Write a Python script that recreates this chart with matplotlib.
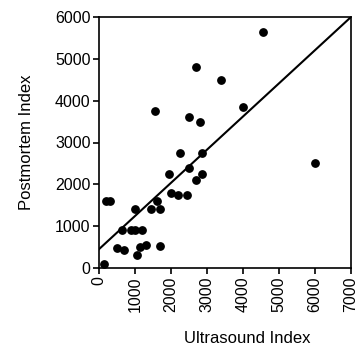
import matplotlib
matplotlib.use('Agg')
import matplotlib.pyplot as plt

# ultrasound index vs postmortem index
ultrasound = [4550, 2700, 3400, 1550, 2500, 2800, 4000,
              6000, 2250, 2850, 2500, 1950, 2850, 2700, 2000, 2200, 2450,
              200, 300, 1600, 1000, 1450, 1700,
              650, 900, 1000, 1200,
              500, 700, 1150, 1300, 1700, 1050, 150]
postmortem = [5650, 4800, 4500, 3750, 3600, 3500, 3850,
              2500, 2750, 2750, 2400, 2250, 2250, 2100, 1800, 1750, 1750,
              1600, 1600, 1600, 1400, 1400, 1400,
              900, 900, 900, 900,
              470, 420, 500, 560, 530, 300, 90]

# fitted line end points
fit_x = [0, 7000]
fit_y = [450, 6000]

xticks = [0, 1000, 2000, 3000, 4000, 5000, 6000, 7000]
yticks = [0, 1000, 2000, 3000, 4000, 5000, 6000]

plt.rcParams['font.family'] = ['Liberation Sans', 'DejaVu Sans']

fig = plt.figure(figsize=(3.57, 3.54), dpi=100)
ax = fig.add_axes([99/357, 1 - 268/354, 252/357, 251/354])

ax.plot(fit_x, fit_y, color='black', linewidth=1.5)
ax.scatter(ultrasound, postmortem, s=28, color='black', zorder=3, clip_on=False)

ax.set_xlim(0, 7000)
ax.set_ylim(0, 6000)
ax.set_xticks(xticks)
ax.set_yticks(yticks)
ax.set_xticklabels([str(t) for t in xticks], rotation=90, fontsize=11.5)
ax.set_yticklabels([str(t) for t in yticks], fontsize=11.5)
ax.tick_params(direction='out', length=4, width=1.2, pad=2)
for sp in ax.spines.values():
    sp.set_linewidth(1.2)

ax.set_xlabel('Ultrasound Index', fontsize=12, labelpad=14)
ax.xaxis.label.set_x(0.587)
ax.set_ylabel('Postmortem Index', fontsize=12, labelpad=15)

fig.savefig('out.png', dpi=100)
